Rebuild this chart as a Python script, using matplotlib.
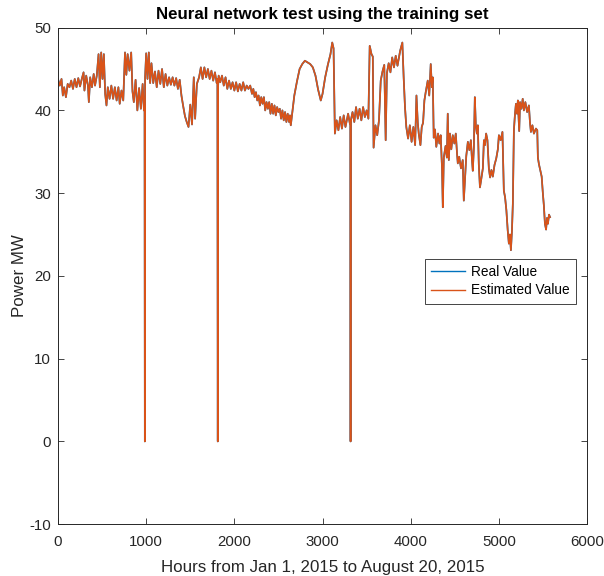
import matplotlib
matplotlib.use("Agg")
import matplotlib.pyplot as plt

# hours since Jan 1 2015
hours = [
    0, 20, 40, 55, 70, 90, 110, 130, 150, 170, 190, 210, 230, 250, 270, 290, 300, 320, 340, 350,
    365, 385, 405, 420, 440, 460, 475, 490, 505, 520, 535, 550, 565, 585, 605, 625, 645, 665, 685, 700,
    720, 740, 760, 775, 790, 810, 830, 845, 860, 880, 900, 920, 940, 960, 975, 982, 985, 988,
    1000, 1015, 1030, 1045, 1060, 1080, 1100, 1120, 1140, 1160, 1180, 1200, 1220, 1240, 1260, 1280,
    1300, 1320, 1340, 1360, 1380, 1400, 1420, 1440, 1460, 1480, 1500, 1520, 1540, 1555, 1575, 1600,
    1620, 1640, 1660, 1680, 1700, 1720, 1740, 1760, 1780, 1800, 1808, 1812, 1816, 1822,
    1840, 1860, 1880, 1900, 1920, 1940, 1960, 1980, 2000, 2020, 2040, 2060, 2080, 2100, 2120, 2140,
    2160, 2180, 2200, 2215, 2230, 2245, 2260, 2275, 2290, 2305, 2320, 2335, 2350, 2365, 2380, 2395,
    2410, 2425, 2440, 2455, 2470, 2485, 2500, 2515, 2530, 2545, 2560, 2575, 2590, 2605, 2620, 2630,
    2640, 2660, 2680, 2710, 2740, 2770, 2800, 2830, 2860, 2890, 2920, 2950, 2980, 3000, 3030, 3060,
    3090, 3110, 3125, 3140, 3160, 3180, 3200, 3220, 3240, 3260, 3290, 3310, 3315, 3318, 3321, 3325,
    3340, 3360, 3380, 3400, 3420, 3440, 3460, 3480, 3500, 3520, 3535, 3555, 3570, 3579, 3600, 3620,
    3640, 3660, 3680, 3700, 3716, 3730, 3750, 3770, 3790, 3810, 3830, 3850, 3880, 3905, 3920, 3935,
    3950, 3970, 3990, 4010, 4030, 4050, 4065, 4080, 4091, 4110, 4125, 4140, 4155, 4170, 4193, 4210,
    4227, 4240, 4250, 4261, 4275, 4290, 4310, 4325, 4340, 4355, 4364, 4375, 4395, 4410, 4420, 4432,
    4445, 4460, 4477, 4495, 4511, 4525, 4534, 4550, 4570, 4590, 4602, 4615, 4630, 4648, 4665, 4682,
    4695, 4704, 4716, 4727, 4738, 4750, 4761, 4772, 4785, 4800, 4818, 4830, 4842, 4855, 4870, 4886,
    4900, 4915, 4931, 4950, 4970, 4988, 5000, 5020, 5040, 5056, 5070, 5085, 5100, 5113, 5125, 5136,
    5148, 5158, 5170, 5182, 5193, 5205, 5215, 5230, 5240, 5255, 5270, 5283, 5300, 5320, 5340, 5352,
    5363, 5380, 5397, 5420, 5435, 5442, 5454, 5470, 5485, 5499, 5510, 5522, 5535, 5545, 5556, 5568,
    5580,
]

real_mw = [
    43.8, 43.0, 43.8, 41.8, 42.8, 41.6, 43.2, 42.8, 43.6, 42.6, 43.8, 42.8, 43.9, 42.9, 43.8, 44.6, 42.4, 44.2, 43.0, 41.0,
    44.0, 42.8, 44.4, 43.0, 44.2, 46.8, 42.8, 47.0, 43.8, 46.8, 42.0, 40.6, 42.8, 41.4, 43.0, 41.4, 42.8, 41.2, 42.8, 40.8,
    42.4, 41.2, 47.0, 44.3, 46.8, 44.8, 47.0, 42.3, 41.0, 43.7, 40.0, 42.7, 40.2, 43.2, 40.0, 40.5, 0.0, 44.0,
    46.9, 43.8, 47.0, 43.3, 45.7, 43.3, 44.7, 42.8, 44.8, 43.2, 45.0, 42.8, 44.4, 43.0, 44.0, 43.1,
    44.0, 43.0, 43.9, 42.6, 43.7, 41.8, 40.5, 39.3, 38.6, 38.0, 40.7, 38.3, 44.0, 39.0, 43.2, 44.0,
    45.2, 43.8, 45.2, 44.0, 45.0, 43.8, 44.8, 43.6, 44.6, 43.3, 43.8, 0.0, 43.0, 44.2,
    43.4, 44.2, 43.0, 44.0, 42.6, 43.6, 42.6, 43.4, 42.4, 43.4, 42.3, 43.2, 42.4, 43.4, 42.4, 43.0,
    42.6, 43.0, 42.0, 42.6, 41.6, 42.2, 41.2, 41.8, 40.6, 41.6, 40.8, 41.6, 40.0, 41.0, 40.2, 41.0,
    39.6, 40.8, 39.6, 40.6, 39.4, 40.4, 39.8, 40.2, 39.0, 40.0, 38.8, 39.8, 38.6, 39.6, 38.6, 39.4,
    38.2, 40.0, 41.8, 43.5, 45.0, 45.6, 46.0, 45.8, 45.6, 45.2, 44.2, 42.5, 41.2, 42.0, 44.0, 45.5,
    46.8, 48.2, 47.5, 37.2, 38.8, 37.6, 39.2, 37.8, 39.4, 38.0, 39.6, 38.4, 38.8, 0.0, 38.6, 39.0,
    39.8, 38.6, 40.4, 39.0, 40.2, 38.8, 40.4, 39.2, 40.0, 39.0, 47.8, 46.8, 46.5, 35.5, 38.2, 37.0,
    38.8, 43.6, 44.7, 45.5, 36.4, 44.5, 45.7, 44.6, 46.4, 45.2, 46.6, 45.4, 47.2, 48.2, 44.0, 40.4,
    38.0, 36.6, 38.2, 36.2, 38.0, 35.8, 41.8, 38.5, 37.2, 35.8, 38.0, 38.5, 41.2, 42.2, 43.6, 41.8,
    45.6, 42.8, 44.0, 36.7, 37.7, 35.6, 37.2, 36.0, 37.0, 33.0, 28.3, 34.3, 35.7, 34.3, 39.6, 34.0,
    37.2, 35.3, 37.0, 36.0, 37.2, 34.8, 33.6, 34.4, 33.0, 34.0, 29.1, 31.5, 34.5, 36.2, 35.2, 36.4,
    34.0, 32.7, 35.5, 41.6, 38.2, 37.2, 38.2, 33.5, 30.7, 31.7, 33.0, 36.4, 35.8, 37.2, 36.4, 33.0,
    31.9, 32.8, 32.0, 33.4, 34.2, 35.3, 37.0, 36.4, 37.4, 30.3, 29.5, 27.9, 25.5, 23.9, 25.0, 23.1,
    25.5, 28.7, 37.6, 39.5, 40.8, 39.6, 41.2, 37.5, 41.0, 40.2, 41.4, 40.0, 41.0, 39.8, 40.6, 38.6,
    37.4, 38.2, 37.2, 37.8, 37.6, 34.3, 33.5, 32.7, 32.0, 29.9, 28.5, 26.3, 25.6, 27.0, 26.3, 27.4,
    27.1,
]

# the network output follows the measured values almost exactly
est_mw = list(real_mw)

x_ticks = [0, 1000, 2000, 3000, 4000, 5000, 6000]
y_ticks = [-10, 0, 10, 20, 30, 40, 50]

plt.rcParams['font.family'] = ['Liberation Sans', 'DejaVu Sans']
plt.rcParams['axes.unicode_minus'] = False
fig = plt.figure(figsize=(6.04, 5.76), dpi=100)
ax = fig.add_axes([0.096, 0.090, 0.876, 0.862])

ax.plot(hours, real_mw, color='#0072BD', linewidth=1.25, label='Real Value')
ax.plot(hours, est_mw, color='#D95319', linewidth=1.2, label='Estimated Value')

ax.set_xlim(0, 6000)
ax.set_ylim(-10, 50)
ax.set_xticks(x_ticks)
ax.set_yticks(y_ticks)
ax.tick_params(direction='in', top=True, right=True, length=4, width=0.6,
               labelsize=10.8, colors='#262626')
ax.tick_params(axis='x', pad=8)
ax.tick_params(axis='y', pad=5)
for s in ax.spines.values():
    s.set_linewidth(0.7)
    s.set_color('#262626')

ax.set_title('Neural network test using the training set', fontsize=12.2, fontweight='bold', pad=6)
ax.set_xlabel('Hours from Jan 1, 2015 to August 20, 2015', fontsize=12.2, color='#262626', labelpad=8)
ax.set_ylabel('Power MW', fontsize=12.2, color='#262626', labelpad=2)

leg = ax.legend(loc='upper left', bbox_to_anchor=(0.694, 0.535), fontsize=9.8,
                fancybox=False, framealpha=1, edgecolor='#262626', borderaxespad=0,
                handlelength=2.5, handletextpad=0.4, borderpad=0.45, labelspacing=0.35)
leg.get_frame().set_linewidth(0.6)
for line in leg.get_lines():
    line.set_linewidth(1.0)

fig.savefig('out.png', dpi=100)
